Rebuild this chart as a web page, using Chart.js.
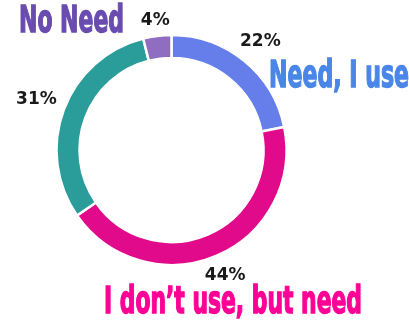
<!DOCTYPE html>
<html>
<head>
<meta charset="utf-8">
<script src="https://cdn.jsdelivr.net/npm/chart.js@4"></script>
<style>
    html, body { margin: 0; padding: 0; background: #fff; }
    #wrap { position: relative; width: 409px; height: 320px; overflow: hidden; }
    #chart { position: absolute; left: 0; top: 0; }
    .tag {
        position: absolute;
        font-family: "Liberation Sans Narrow", "DejaVu Sans Condensed", sans-serif;
        font-weight: bold;
        font-size: 37px;
        line-height: 1;
        white-space: nowrap;
        transform-origin: left top;
        -webkit-text-stroke: 1.4px currentColor;
    }
</style>
</head>
<body>
<div id="wrap">
    <canvas id="chart" width="409" height="320"></canvas>
    <div class="tag" id="tagNoNeed" style="color:#6a4caf">No Need</div>
    <div class="tag" id="tagNeedUse" style="color:#4a86e8">Need, I use</div>
    <div class="tag" id="tagDontUse" style="color:#ff0096">I don’t use, but need</div>
</div>
<script>
const categories = ['Need, I use', 'I don\u2019t use, but need', 'Other', 'No Need'];
const shares = [22, 44, 31, 4];
const sliceColors = ['#657ee9', '#e10a8a', '#2a9d9b', '#8f6dc1'];

// percentage labels outside the ring
const outerLabels = {
    id: 'outerLabels',
    afterDatasetsDraw(chart) {
        const ctx = chart.ctx;
        const meta = chart.getDatasetMeta(0);
        ctx.save();
        ctx.font = 'bold 17px "DejaVu Sans", sans-serif';
        ctx.fillStyle = '#1a1a1a';
        ctx.textAlign = 'center';
        ctx.textBaseline = 'middle';
        meta.data.forEach((arc, i) => {
            const p = arc.getProps(['x', 'y', 'startAngle', 'endAngle', 'outerRadius'], true);
            const mid = (p.startAngle + p.endAngle) / 2;
            const text = shares[i] + '%';
            const w = ctx.measureText(text).width;
            const h = 12;
            const r = p.outerRadius + 8 + (w / 2) * Math.abs(Math.cos(mid)) + (h / 2) * Math.abs(Math.sin(mid));
            ctx.fillText(text, p.x + Math.cos(mid) * r, p.y + Math.sin(mid) * r);
        });
        ctx.restore();
    }
};

new Chart(document.getElementById('chart'), {
    type: 'doughnut',
    data: {
        labels: categories,
        datasets: [{
            data: shares,
            backgroundColor: sliceColors,
            borderColor: '#ffffff',
            borderWidth: 2.5,
            hoverOffset: 0
        }]
    },
    options: {
        responsive: false,
        animation: false,
        radius: 115,
        cutout: '80%',
        layout: { padding: { left: 0, right: 66, top: 0, bottom: 20 } },
        plugins: {
            legend: { display: false },
            tooltip: { enabled: false }
        }
    },
    plugins: [outerLabels]
});

// place the big coloured captions, squeezed to the reference width
const placeTag = (id, left, top, width) => {
    const el = document.getElementById(id);
    el.style.left = left + 'px';
    el.style.top = top + 'px';
    const sx = width / el.getBoundingClientRect().width;
    el.style.transform = `scale(${sx}, 1)`;
};

placeTag('tagNoNeed', 19, 1, 105);
placeTag('tagNeedUse', 269, 56, 140);
placeTag('tagDontUse', 104, 282, 258);
</script>
</body>
</html>
